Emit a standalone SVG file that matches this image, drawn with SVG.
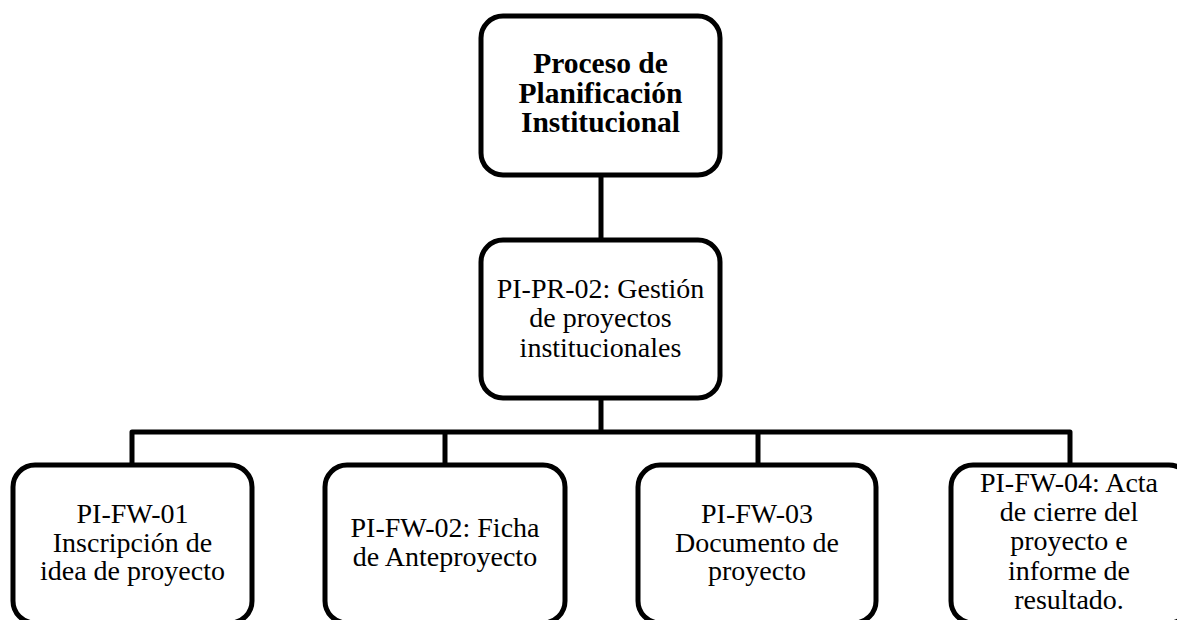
<svg xmlns="http://www.w3.org/2000/svg" width="1177" height="620" viewBox="0 0 1177 620">
  <style>
    .box { fill: #ffffff; stroke: #000000; stroke-width: 5; }
    .link { fill: none; stroke: #000000; stroke-width: 5; stroke-linejoin: round; }
    .lbl { font-family: "Liberation Serif", "Times New Roman", serif; font-size: 28px; fill: #000000; text-anchor: middle; }
    .bold { font-weight: bold; font-size: 29.5px; }
  </style>
  <rect width="1177" height="620" fill="#ffffff"/>

  <!-- connectors -->
  <g id="connectors">
    <line class="link" x1="601" y1="175" x2="601" y2="240"/>
    <line class="link" x1="601" y1="398" x2="601" y2="432"/>
    <polyline class="link" points="132,465 132,432 1070,432 1070,465"/>
    <line class="link" x1="445" y1="432" x2="445" y2="465"/>
    <line class="link" x1="758" y1="432" x2="758" y2="465"/>
  </g>

  <!-- top level process -->
  <g id="node-proceso">
    <rect class="box" x="481" y="16" width="239" height="159" rx="22"/>
    <text class="lbl bold"><tspan x="600.5" y="73">Proceso de</tspan><tspan x="600.5" y="103">Planificación</tspan><tspan x="600.5" y="132">Institucional</tspan></text>
  </g>

  <!-- procedure -->
  <g id="node-pr02">
    <rect class="box" x="481" y="240" width="239" height="158" rx="22"/>
    <text class="lbl"><tspan x="600.5" y="298">PI-PR-02: Gestión</tspan><tspan x="600.5" y="327">de proyectos</tspan><tspan x="600.5" y="357">institucionales</tspan></text>
  </g>

  <!-- formats -->
  <g id="node-fw01">
    <rect class="box" x="13" y="465" width="239" height="158" rx="22"/>
    <text class="lbl"><tspan x="132.5" y="523">PI-FW-01</tspan><tspan x="132.5" y="552">Inscripción de</tspan><tspan x="132.5" y="580">idea de proyecto</tspan></text>
  </g>

  <g id="node-fw02">
    <rect class="box" x="325" y="465" width="240" height="158" rx="22"/>
    <text class="lbl"><tspan x="445" y="537">PI-FW-02: Ficha</tspan><tspan x="445" y="566">de Anteproyecto</tspan></text>
  </g>

  <g id="node-fw03">
    <rect class="box" x="638" y="465" width="238" height="158" rx="22"/>
    <text class="lbl"><tspan x="757" y="523">PI-FW-03</tspan><tspan x="757" y="552">Documento de</tspan><tspan x="757" y="580">proyecto</tspan></text>
  </g>

  <g id="node-fw04">
    <rect class="box" x="951" y="465" width="240" height="158" rx="22"/>
    <text class="lbl"><tspan x="1069" y="492">PI-FW-04: Acta</tspan><tspan x="1069" y="521">de cierre del</tspan><tspan x="1069" y="550">proyecto e</tspan><tspan x="1069" y="580">informe de</tspan><tspan x="1069" y="609">resultado.</tspan></text>
  </g>
</svg>
